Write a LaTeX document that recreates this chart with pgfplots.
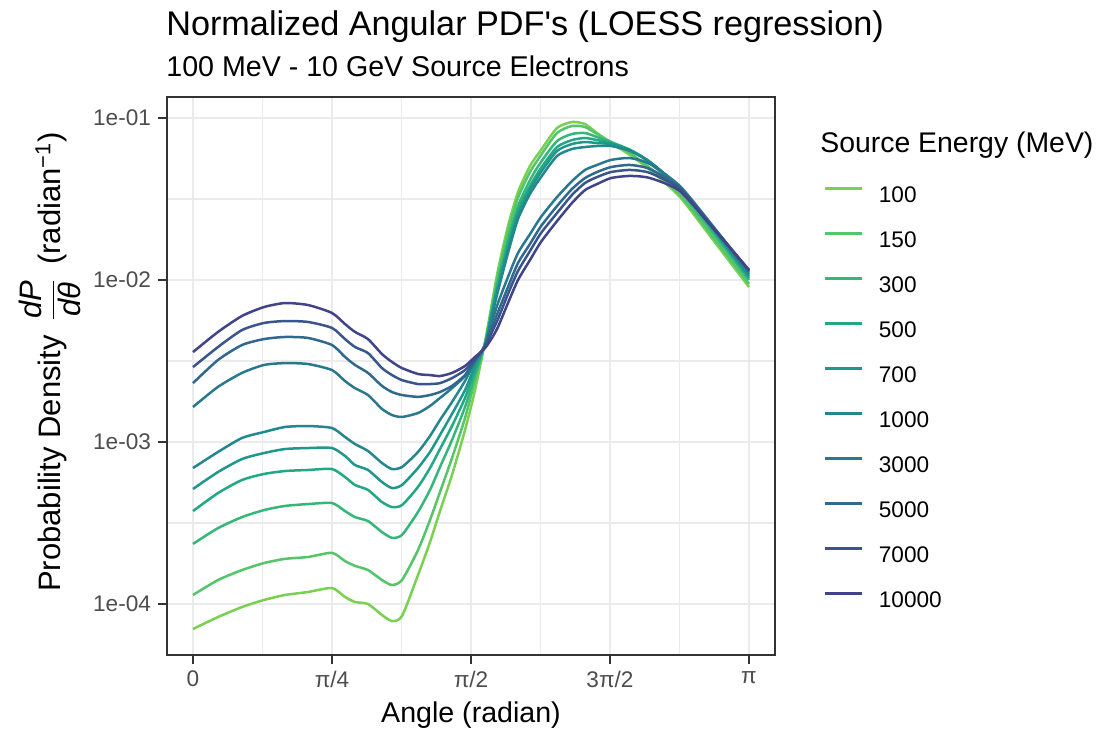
\documentclass[border=0pt]{standalone}
\usepackage{amsmath}
\usepackage{pgfplots}
\usepackage{pgfplotstable}
\pgfplotsset{compat=1.18}
\usepackage{fontspec}
\setmainfont{Liberation Sans}[Ligatures=TeXOff]

\definecolor{c100}{HTML}{7AD151}
\definecolor{c150}{HTML}{54C568}
\definecolor{c300}{HTML}{35B779}
\definecolor{c500}{HTML}{22A884}
\definecolor{c700}{HTML}{1F988B}
\definecolor{c1000}{HTML}{23888E}
\definecolor{c3000}{HTML}{2A788E}
\definecolor{c5000}{HTML}{31688E}
\definecolor{c7000}{HTML}{39568C}
\definecolor{c10000}{HTML}{414487}
\definecolor{gridc}{HTML}{EBEBEB}
\definecolor{grey20}{HTML}{333333}
\definecolor{grey30}{HTML}{4D4D4D}

\pgfplotstableread{
x      e100     e150     e300     e500     e700     e1000    e3000    e5000    e7000    e10000
0.0000 7.01e-5  1.137e-4 2.35e-4  3.75e-4  5.13e-4  6.91e-4  1.645e-3 2.31e-3  2.90e-3  3.59e-3
0.1413 8.31e-5  1.406e-4 2.94e-4  4.84e-4  6.53e-4  8.68e-4  2.19e-3  3.21e-3  3.86e-3  4.78e-3
0.2769 9.58e-5  1.62e-4  3.44e-4  5.83e-4  7.85e-4  1.059e-3 2.67e-3  3.97e-3  4.91e-3  6.00e-3
0.4012 1.059e-4 1.79e-4  3.80e-4  6.35e-4  8.55e-4  1.153e-3 2.99e-3  4.32e-3  5.43e-3  6.81e-3
0.5198 1.137e-4 1.90e-4  4.03e-4  6.62e-4  9.05e-4  1.238e-3 3.07e-3  4.45e-3  5.58e-3  7.21e-3
0.6498 1.186e-4 1.95e-4  4.14e-4  6.72e-4  9.18e-4  1.255e-3 3.03e-3  4.39e-3  5.51e-3  7.01e-3
0.7854 1.255e-4 2.07e-4  4.20e-4  6.81e-4  9.18e-4  1.220e-3 2.78e-3  3.97e-3  5.06e-3  6.26e-3
0.8588 1.105e-4 1.84e-4  3.75e-4  6.08e-4  8.20e-4  1.074e-3 2.38e-3  3.35e-3  4.32e-3  5.35e-3
0.9153 1.029e-4 1.72e-4  3.44e-4  5.43e-4  7.21e-4  9.72e-4  2.15e-3  2.99e-3  3.86e-3  4.78e-3
0.9888 1.000e-4 1.62e-4  3.25e-4  5.06e-4  6.72e-4  8.80e-4  1.95e-3  2.67e-3  3.54e-3  4.32e-3
1.0679 8.55e-5  1.406e-4 2.78e-4  4.26e-4  5.66e-4  7.42e-4  1.60e-3  2.22e-3  2.86e-3  3.49e-3
1.1244 7.85e-5  1.31e-4  2.56e-4  3.97e-4  5.20e-4  6.81e-4  1.468e-3 2.035e-3 2.59e-3  3.12e-3
1.1809 8.43e-5  1.406e-4 2.67e-4  4.08e-4  5.43e-4  7.01e-4  1.427e-3 1.95e-3  2.41e-3  2.86e-3
1.2713 1.51e-4  2.15e-4  3.70e-4  5.28e-4  6.91e-4  8.68e-4  1.51e-3  1.90e-3  2.28e-3  2.63e-3
1.3391 2.41e-4  3.30e-4  5.06e-4  6.91e-4  8.68e-4  1.089e-3 1.67e-3  1.95e-3  2.28e-3  2.59e-3
1.3956 3.75e-4  4.91e-4  7.01e-4  9.05e-4  1.105e-3 1.367e-3 1.87e-3  2.035e-3 2.31e-3  2.555e-3
1.4634 6.26e-4  7.97e-4  1.029e-3 1.255e-3 1.49e-3  1.766e-3 2.15e-3  2.22e-3  2.48e-3  2.67e-3
1.5369 1.186e-3 1.406e-3 1.645e-3 1.87e-3  2.09e-3  2.38e-3  2.555e-3 2.59e-3  2.78e-3  2.945e-3
1.5934 2.09e-3  2.41e-3  2.59e-3  2.78e-3  2.945e-3 3.12e-3  3.16e-3  3.21e-3  3.25e-3  3.35e-3
1.6499 4.14e-3  4.08e-3  4.03e-3  4.03e-3  3.97e-3  3.97e-3  3.97e-3  3.91e-3  3.86e-3  3.80e-3
1.6894 7.21e-3  6.91e-3  6.53e-3  6.35e-3  6.17e-3  6.00e-3  5.51e-3  5.06e-3  4.78e-3  4.39e-3
1.7233 1.153e-2 1.074e-2 9.86e-3  9.31e-3  8.93e-3  8.55e-3  7.21e-3  6.35e-3  5.74e-3  5.13e-3
1.7798 2.154e-2 1.98e-2  1.77e-2  1.645e-2 1.554e-2 1.468e-2 1.044e-2 9.05e-3  8.20e-3  7.21e-3
1.8363 3.49e-2  3.21e-2  2.86e-2  2.67e-2  2.52e-2  2.38e-2  1.468e-2 1.273e-2 1.137e-2 1.000e-2
1.9042 5.06e-2  4.64e-2  4.14e-2  3.80e-2  3.59e-2  3.40e-2  1.92e-2  1.67e-2  1.51e-2  1.329e-2
1.9663 6.35e-2  5.91e-2  5.35e-2  4.91e-2  4.64e-2  4.32e-2  2.45e-2  2.15e-2  1.95e-2  1.72e-2
2.0567 8.68e-2  8.08e-2  7.21e-2  6.62e-2  6.26e-2  5.83e-2  3.25e-2  2.86e-2  2.59e-2  2.31e-2
2.1415 9.45e-2  8.93e-2  7.97e-2  7.31e-2  6.91e-2  6.44e-2  4.08e-2  3.65e-2  3.35e-2  2.99e-2
2.2149 9.18e-2  8.80e-2  8.08e-2  7.53e-2  7.11e-2  6.62e-2  4.78e-2  4.26e-2  3.97e-2  3.59e-2
2.2827 8.08e-2  7.97e-2  7.63e-2  7.31e-2  7.01e-2  6.72e-2  5.13e-2  4.64e-2  4.32e-2  3.91e-2
2.3618 7.01e-2  7.11e-2  7.11e-2  7.01e-2  6.91e-2  6.72e-2  5.51e-2  4.98e-2  4.64e-2  4.26e-2
2.4692 5.91e-2  6.08e-2  6.35e-2  6.35e-2  6.35e-2  6.26e-2  5.66e-2  5.13e-2  4.78e-2  4.39e-2
2.5822 4.78e-2  4.91e-2  5.28e-2  5.35e-2  5.35e-2  5.35e-2  5.20e-2  4.84e-2  4.58e-2  4.26e-2
2.7517 3.25e-2  3.35e-2  3.54e-2  3.65e-2  3.70e-2  3.70e-2  3.80e-2  3.70e-2  3.65e-2  3.54e-2
2.9382 1.77e-2  1.84e-2  1.95e-2  2.04e-2  2.07e-2  2.09e-2  2.15e-2  2.12e-2  2.12e-2  2.09e-2
3.1416 9.05e-3  9.45e-3  1.000e-2 1.029e-2 1.059e-2 1.089e-2 1.121e-2 1.137e-2 1.153e-2 1.153e-2
}\pdfdata

\begin{document}
\begin{tikzpicture}
\useasboundingbox (0pt,0pt) rectangle (549pt,365pt);
\begin{axis}[
  at={(83.5pt,37.5pt)}, anchor=south west,
  width=304pt, height=279pt, scale only axis,
  xmin=-0.1469, xmax=3.2885,
  ymode=log, ymin=4.843e-5, ymax=0.1348,
  xtick={0,0.785398,1.570796,2.356194,3.141593},
  xticklabels={0,π/4,π/2,3π/2,π},
  minor xtick={0.392699,1.178097,1.963495,2.748894},
  ytick={1e-4,1e-3,1e-2,1e-1},
  yticklabels={1e-04,1e-03,1e-02,1e-01},
  minor ytick={3.16228e-4,3.16228e-3,3.16228e-2},
  grid=both,
  major grid style={color=gridc, line width=1.1pt},
  minor grid style={color=gridc, line width=0.55pt},
  axis line style={grey20, line width=0.55pt},
  tick align=outside,
  xtick pos=bottom, ytick pos=left,
  major tick length=4.5pt, minor tick length=0pt,
  tick style={grey20, line width=0.55pt},
  ticklabel style={font=\fontsize{11.3}{13}\selectfont, text=grey30},
  every axis plot/.append style={line width=1.25pt, line join=round, smooth, tension=0.4},
  legend cell align=left,
  legend style={at={(axis description cs:1.0789,0.8405)}, anchor=north west,
    draw=none, fill=none, inner sep=0pt, row sep=12.5pt,
    font=\fontsize{11.3}{13}\selectfont,
    nodes={inner sep=0pt, text height=8pt, text depth=2pt},
    /tikz/every odd column/.append style={column sep=8pt}},
  legend image code/.code={\draw[#1, line width=1.25pt] (0pt,4pt) -- (18.5pt,4pt);},
]
\addplot[c100]   table[x=x, y=e100]   {\pdfdata}; \addlegendentry{100}
\addplot[c150]   table[x=x, y=e150]   {\pdfdata}; \addlegendentry{150}
\addplot[c300]   table[x=x, y=e300]   {\pdfdata}; \addlegendentry{300}
\addplot[c500]   table[x=x, y=e500]   {\pdfdata}; \addlegendentry{500}
\addplot[c700]   table[x=x, y=e700]   {\pdfdata}; \addlegendentry{700}
\addplot[c1000]  table[x=x, y=e1000]  {\pdfdata}; \addlegendentry{1000}
\addplot[c3000]  table[x=x, y=e3000]  {\pdfdata}; \addlegendentry{3000}
\addplot[c5000]  table[x=x, y=e5000]  {\pdfdata}; \addlegendentry{5000}
\addplot[c7000]  table[x=x, y=e7000]  {\pdfdata}; \addlegendentry{7000}
\addplot[c10000] table[x=x, y=e10000] {\pdfdata}; \addlegendentry{10000}
\end{axis}
\node[anchor=base west, font=\fontsize{17.1}{19}\selectfont, inner sep=0pt] at (83pt,347pt) {Normalized Angular PDF's (LOESS regression)};
\node[anchor=base west, font=\fontsize{14.3}{16}\selectfont, inner sep=0pt] at (83pt,326.5pt) {100 MeV - 10 GeV Source Electrons};
\node[anchor=base, font=\fontsize{14.3}{16}\selectfont, inner sep=0pt] at (235.5pt,4pt) {Angle (radian)};
\node[rotate=90, font=\fontsize{15.5}{18}\selectfont, inner sep=0pt] at (25pt,184pt) {Probability Density\, $\displaystyle\frac{\textit{dP}}{\textit{dθ}}$\, (radian\textsuperscript{−1})};
\node[anchor=base west, font=\fontsize{14.2}{16}\selectfont, inner sep=0pt] at (410pt,288.5pt) {Source Energy (MeV)};
\end{tikzpicture}
\end{document}
